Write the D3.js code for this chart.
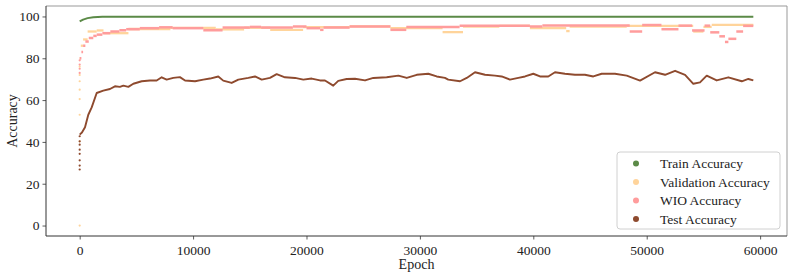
<!DOCTYPE html>
<html>
<head>
<meta charset="utf-8">
<script src="https://cdn.jsdelivr.net/npm/d3@7"></script>
<style>
  body { margin: 0; background: #fff; }
  text { font-family: "Liberation Serif", "Times New Roman", serif; }
</style>
</head>
<body>
<div id="chart"></div>
<script>
// Train accuracy (line)
const trainEpochs = [0, 300, 700, 1200, 2000, 5000, 59400];
const trainAcc    = [97.6, 98.5, 99.2, 99.6, 99.8, 99.9, 99.9];

// Validation accuracy (level changes)
const valEarlyAcc = [0, 40.3, 53, 60.5, 65, 69, 72, 76];
const valEpochs = [0, 100, 300, 700, 1500, 2100, 4300, 8000, 12000, 14500, 16800, 19700, 23800, 27400,
                   32000, 33800, 37000, 39700, 42900, 43200, 48240, 54100, 55000, 55730];
const valAcc    = [80, 86, 89, 92.8, 93.3, 92, 94, 94.5, 93.8, 94.6, 93.6, 94.9, 95.3, 94.4,
                   92.5, 95.1, 95.5, 94.4, 93, 95.2, 95.5, 92.8, 95, 96];

// WIO accuracy (level changes)
const wioEarlyAcc = [73, 75, 77, 79];
const wioEpochs = [0, 150, 300, 500, 800, 1200, 1500, 2000, 2700, 3500, 4100, 5300, 7000, 8200, 10900,
                   12600, 15000, 16000, 18800, 20000, 21200, 21500, 23800, 27400, 28800, 33500, 39700,
                   40800, 48500, 49600, 51300, 52800, 54000, 55100, 55600, 56400, 56900, 57200, 57900, 58500];
const wioAcc    = [80, 83, 86, 88, 89.7, 90.7, 91.3, 92, 92.8, 93.4, 93.9, 94.4, 94.8, 94.4, 93.4,
                   94.7, 95.0, 94.7, 95.2, 94.4, 93.6, 94.7, 95.2, 93.6, 94.9, 95.5, 95.2,
                   95.7, 92.8, 95.9, 93.9, 95.6, 93.3, 95.6, 92.4, 90.5, 87.8, 89.3, 92.8, 95.5];

// Test accuracy (line)
const testEarlyAcc = [26.8, 28.7, 31.2, 34.3, 36.3, 38.7, 40.3, 42.7];
const testEpochs = [0, 200, 470, 760, 1060, 1500, 2080, 2670, 3110, 3550, 3850, 4290, 4730, 5470, 6200,
                    6790, 7230, 7670, 8250, 8840, 9290, 10170, 10900, 11490, 12220, 12660, 13400, 13990,
                    14870, 15460, 16050, 16780, 17370, 18100, 18990, 19720, 20460, 21190, 21630, 22360,
                    22800, 23540, 24280, 25160, 25890, 27070, 28100, 28840, 29720, 30740, 31480, 32210,
                    32500, 33540, 34130, 34860, 35740, 36620, 37210, 37940, 38680, 39270, 40000, 40590,
                    41320, 41910, 42790, 43670, 44550, 45290, 46030, 47200, 48240, 49410, 50730, 51620,
                    52500, 53380, 54110, 54700, 55290, 56170, 57200, 58380, 58960, 59400];
const testAcc    = [43.5, 44.5, 47, 53, 56.5, 63.4, 64.5, 65.3, 66.6, 66.3, 66.9, 66.3, 67.8, 69, 69.4,
                    69.4, 70.9, 69.8, 70.6, 71, 69.4, 69, 69.8, 70.3, 71.3, 69.3, 68.2, 69.8,
                    70.6, 71.3, 69.8, 70.6, 72.4, 70.9, 70.6, 69.8, 70.3, 69.4, 69.4, 66.9,
                    69.2, 70.1, 70.2, 69.4, 70.6, 70.9, 71.7, 70.6, 72.1, 72.6, 71.3, 70.6,
                    69.8, 69, 70.6, 73.3, 72.1, 71.7, 71.3, 69.8, 70.6, 71.3, 72.6, 71.3,
                    71.3, 73.3, 72.6, 72.1, 72.1, 71.3, 72.6, 72.6, 71.7, 69.3, 73.3, 72.1,
                    74, 72.1, 67.8, 68.5, 71.7, 69.4, 70.9, 69, 70.1, 69.4];

const lastEpoch = 59400;
const xTicks = [0, 10000, 20000, 30000, 40000, 50000, 60000];
const yTicks = [0, 20, 40, 60, 80, 100];

const colors = {
  train: "#5b8a47",
  val: "#ffd49b",
  wio: "#ff9c9c",
  test: "#8e4a2e"
};

const W = 793, H = 275;
const margin = {left: 46, right: 6, top: 6, bottom: 39};

const svg = d3.select("#chart").append("svg")
  .attr("width", W).attr("height", H);

const pad = lastEpoch * 0.05;
const x = d3.scaleLinear().domain([-pad, lastEpoch + pad]).range([margin.left, W - margin.right]);
const y = d3.scaleLinear().domain([-5, 105]).range([H - margin.bottom, margin.top]);

// step segments: each level runs until the next change
function drawSteps(epochs, acc, color, width) {
  const seg = epochs.map((e, i) => [e, i + 1 < epochs.length ? epochs[i + 1] : lastEpoch, acc[i]]);
  svg.append("g").selectAll("line").data(seg).join("line")
    .attr("x1", d => x(d[0])).attr("x2", d => x(d[1]))
    .attr("y1", d => y(d[2])).attr("y2", d => y(d[2]))
    .attr("stroke", color).attr("stroke-width", width);
}

function drawLine(epochs, acc, color, width) {
  svg.append("path")
    .datum(epochs.map((e, i) => [e, acc[i]]))
    .attr("d", d3.line().x(d => x(d[0])).y(d => y(d[1])))
    .attr("fill", "none").attr("stroke", color).attr("stroke-width", width)
    .attr("stroke-linejoin", "round");
}

function drawEarly(vals, color) {
  svg.append("g").selectAll("circle").data(vals).join("circle")
    .attr("cx", x(0)).attr("cy", d => y(d)).attr("r", 1.1).attr("fill", color);
}

drawLine(trainEpochs, trainAcc, colors.train, 2);
drawEarly(valEarlyAcc, colors.val);
drawSteps(valEpochs, valAcc, colors.val, 2.3);
drawEarly(wioEarlyAcc, colors.wio);
drawSteps(wioEpochs, wioAcc, colors.wio, 2.5);
drawEarly(testEarlyAcc, colors.test);
drawLine(testEpochs, testAcc, colors.test, 1.9);

// axes
const xAxis = svg.append("g")
  .attr("transform", `translate(0,${H - margin.bottom})`)
  .call(d3.axisBottom(x).tickValues(xTicks).tickFormat(d3.format("d")).tickSizeOuter(0).tickSize(3.5));
const yAxis = svg.append("g")
  .attr("transform", `translate(${margin.left},0)`)
  .call(d3.axisLeft(y).tickValues(yTicks).tickSizeOuter(0).tickSize(3.5));

[xAxis, yAxis].forEach(a => {
  a.select(".domain").remove();
  a.selectAll("line").attr("stroke", "#333").attr("stroke-width", 0.8);
  a.selectAll("text").attr("fill", "#222").style("font-size", "13.5px")
    .style("font-family", "'Liberation Serif', serif");
});
xAxis.selectAll("text").attr("dy", "0.95em");

// frame
svg.append("line").attr("x1", margin.left).attr("x2", W - margin.right)
  .attr("y1", margin.top).attr("y2", margin.top).attr("stroke", "#999").attr("stroke-width", 1);
svg.append("line").attr("x1", W - margin.right).attr("x2", W - margin.right)
  .attr("y1", margin.top).attr("y2", H - margin.bottom).attr("stroke", "#999").attr("stroke-width", 1);
svg.append("line").attr("x1", margin.left).attr("x2", W - margin.right)
  .attr("y1", H - margin.bottom).attr("y2", H - margin.bottom).attr("stroke", "#333").attr("stroke-width", 1);
svg.append("line").attr("x1", margin.left).attr("x2", margin.left)
  .attr("y1", margin.top).attr("y2", H - margin.bottom).attr("stroke", "#333").attr("stroke-width", 1);

// axis titles
svg.append("text")
  .attr("x", (margin.left + W - margin.right) / 2).attr("y", 269)
  .attr("text-anchor", "middle").style("font-size", "14px").attr("fill", "#222")
  .text("Epoch");
svg.append("text")
  .attr("transform", `translate(17,${(margin.top + H - margin.bottom) / 2}) rotate(-90)`)
  .attr("text-anchor", "middle").style("font-size", "14px").attr("fill", "#222")
  .text("Accuracy");

// legend
const legendItems = [
  ["Train Accuracy", colors.train],
  ["Validation Accuracy", colors.val],
  ["WIO Accuracy", colors.wio],
  ["Test Accuracy", colors.test]
];
const lg = svg.append("g").attr("transform", "translate(617,152)");
lg.append("rect").attr("width", 163).attr("height", 77).attr("rx", 3)
  .attr("fill", "#fff").attr("fill-opacity", 0.8)
  .attr("stroke", "#d0d0d0").attr("stroke-width", 1);
legendItems.forEach((d, i) => {
  const yy = 11.5 + i * 18.5;
  lg.append("circle").attr("cx", 19).attr("cy", yy).attr("r", 3).attr("fill", d[1]);
  lg.append("text").attr("x", 43).attr("y", yy).attr("dy", "0.35em")
    .style("font-size", "13.5px").attr("fill", "#222").text(d[0]);
});
</script>
</body>
</html>
